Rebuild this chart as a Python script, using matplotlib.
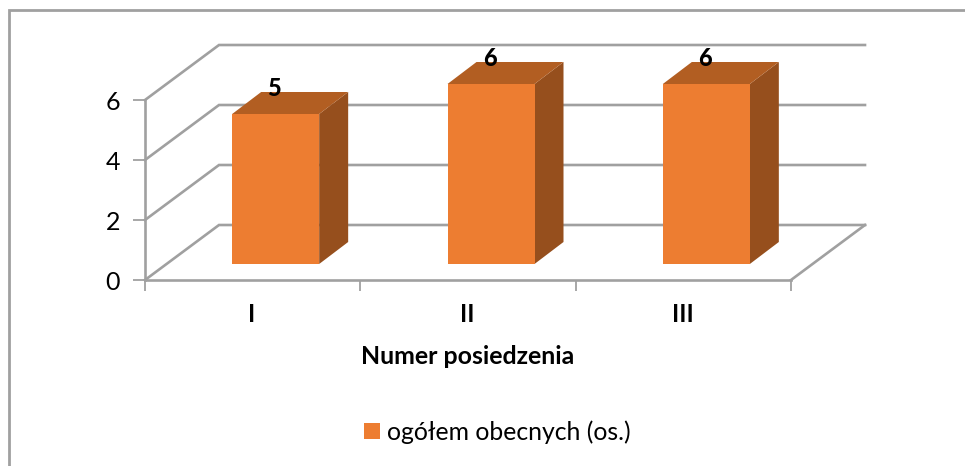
import numpy as np
import matplotlib
matplotlib.use('Agg')
import matplotlib.pyplot as plt
from matplotlib.lines import Line2D
from matplotlib.patches import Polygon

categories = ['I', 'II', 'III']
values = [5, 6, 6]
y_ticks = [0, 2, 4, 6]
series_name = 'ogółem obecnych (os.)'
x_title = 'Numer posiedzenia'

W, H = 965, 466
GRID = '#a0a0a0'
FRONT = '#ed7d31'
TOP = '#b25e22'
SIDE = '#964f1d'

plt.rcParams['font.family'] = ['Lato', 'DejaVu Sans']

fig = plt.figure(figsize=(W / 100, H / 100), dpi=100)

# axes box is the front plane of the fake 3d chart
left, right, top, bottom = 145, 791, 100, 280
ax = fig.add_axes([left / W, 1 - bottom / H, (right - left) / W, (bottom - top) / H])
ax.set_xlim(0, len(categories))
ax.set_ylim(0, 6)
ax.patch.set_visible(False)

# depth of the floor / walls and of the bars, in data units
px_x = (right - left) / len(categories)
px_y = (bottom - top) / 6
wall_dx, wall_dy = 74 / px_x, 55 / px_y
bar_dx, bar_dy = 29 / px_x, 22 / px_y
bar_w = 87 / px_x
bar_shift = 23 / px_x
bar_lift = 16 / px_y

# walls
for v in y_ticks:
    ax.plot([0, wall_dx, len(categories) + wall_dx], [v, v + wall_dy, v + wall_dy],
            color=GRID, lw=1.9, clip_on=False, zorder=1, solid_joinstyle='miter')
ax.plot([len(categories), len(categories) + wall_dx], [0, wall_dy],
        color=GRID, lw=1.9, clip_on=False, zorder=1)

# bars
for i, v in enumerate(values):
    x0 = i + 0.5 + bar_shift - bar_w / 2
    x1 = x0 + bar_w
    y0 = bar_lift
    y1 = y0 + v
    ax.add_patch(Polygon([(x1, y0), (x1 + bar_dx, y0 + bar_dy), (x1 + bar_dx, y1 + bar_dy), (x1, y1)],
                         facecolor=SIDE, edgecolor='none', clip_on=False, zorder=3))
    ax.add_patch(Polygon([(x0, y1), (x1, y1), (x1 + bar_dx, y1 + bar_dy), (x0 + bar_dx, y1 + bar_dy)],
                         facecolor=TOP, edgecolor='none', clip_on=False, zorder=3))
    ax.add_patch(Polygon([(x0, y0), (x1, y0), (x1, y1), (x0, y1)],
                         facecolor=FRONT, edgecolor='none', clip_on=False, zorder=4))
    ax.text(x0 + 42 / px_x, y1 + 26 / px_y, str(v), ha='center', va='center',
            fontsize=17, fontweight='black', color='black', zorder=5)

# axes
for s in ['top', 'right']:
    ax.spines[s].set_visible(False)
for s in ['left', 'bottom']:
    ax.spines[s].set_color(GRID)
    ax.spines[s].set_linewidth(1.9)
ax.set_yticks(y_ticks)
ax.set_xticks(np.arange(len(categories) + 1))
ax.set_xticklabels([])
ax.tick_params(axis='y', length=9, width=1.3, color=GRID, labelsize=18, pad=9)
ax.tick_params(axis='x', length=8, width=1.3, color=GRID)

for i, c in enumerate(categories):
    fig.text((252 + i * 215.5) / W, 1 - 315 / H, c, ha='center', va='center',
             fontsize=17.5, fontweight='bold')
fig.text(467.5 / W, 1 - 356 / H, x_title, ha='center', va='center', fontsize=17.9, fontweight='bold')

# legend
handle = Polygon([(0, 0)], facecolor=FRONT, edgecolor='none')
leg = fig.legend([handle], [series_name], loc='center', bbox_to_anchor=(497.5 / W, 1 - 432 / H),
                 frameon=False, fontsize=17.8, handlelength=0.62, handleheight=0.62,
                 handletextpad=0.3, borderpad=0, borderaxespad=0)

# chart frame, only left and top show up in the crop
fig.add_artist(Line2D([8.5 / W, 8.5 / W, 1], [0, 1 - 9.5 / H, 1 - 9.5 / H], color=GRID, lw=2,
                      transform=fig.transFigure, solid_joinstyle='miter'))

fig.savefig('out.png', dpi=100, facecolor='white')
